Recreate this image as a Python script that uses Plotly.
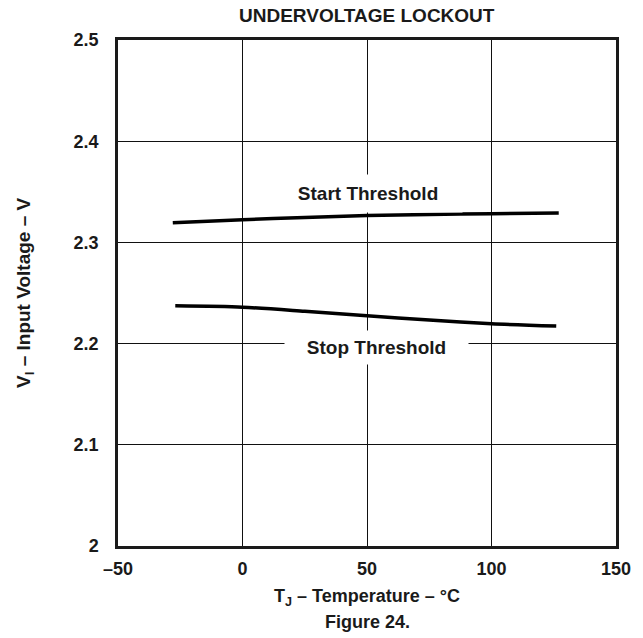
import plotly.graph_objects as go

# Junction temperature (°C) and UVLO thresholds (V)
start_temp = [-28, 0, 25, 50, 75, 100, 127]
start_volt = [2.3193, 2.3225, 2.3245, 2.3265, 2.3276, 2.3284, 2.329]

stop_temp = [-27, 0, 25, 50, 75, 100, 126]
stop_volt = [2.2373, 2.236, 2.232, 2.2275, 2.2232, 2.2196, 2.2173]

x_ticks = [-50, 0, 50, 100, 150]
x_tick_text = ["\u201350", "0", "50", "100", "150"]
y_ticks = [2.0, 2.1, 2.2, 2.3, 2.4, 2.5]
y_tick_text = ["2", "2.1", "2.2", "2.3", "2.4", "2.5"]

FONT = "Liberation Sans, Arial, sans-serif"
INK = "#1a1a1a"
PAD = "\u00a0\u00a0\u00a0"

fig = go.Figure()
for xs, ys in ((start_temp, start_volt), (stop_temp, stop_volt)):
    fig.add_trace(go.Scatter(x=xs, y=ys, mode="lines",
                             line=dict(color="black", width=3.5, shape="spline", smoothing=0.8),
                             showlegend=False, hoverinfo="skip"))

label_font = dict(family=FONT, size=19, color=INK)
fig.add_annotation(x=50.2, y=2.3484, text=f"<b>{PAD}Start Threshold{PAD}</b>", showarrow=False,
                   font=label_font, bgcolor="white", borderpad=8)
fig.add_annotation(x=53.7, y=2.1958, text=f"<b>{PAD}Stop Threshold{PAD}</b>", showarrow=False,
                   font=label_font, bgcolor="white", borderpad=6)

# Chart title, axis titles and figure caption
fig.add_annotation(x=0.5, y=1, xref="paper", yref="paper", yshift=25, yanchor="middle",
                   text="<b>UNDERVOLTAGE LOCKOUT</b>", showarrow=False,
                   font=dict(family=FONT, size=19, color=INK))
fig.add_annotation(x=0.5, y=0, xref="paper", yref="paper", yshift=-51, yanchor="middle",
                   text="<b>T<sub>J</sub> \u2013 Temperature \u2013 \u00b0C</b>", showarrow=False,
                   font=dict(family=FONT, size=18, color=INK))
fig.add_annotation(x=0.5, y=0, xref="paper", yref="paper", yshift=-76, yanchor="middle",
                   text="<b>Figure 24.</b>", showarrow=False,
                   font=dict(family=FONT, size=18, color=INK))
fig.add_annotation(x=0, y=0.5, xref="paper", yref="paper", xshift=-93, xanchor="center",
                   yanchor="middle", textangle=-90,
                   text="<b>V<sub>I</sub> \u2013 Input Voltage \u2013 V</b>", showarrow=False,
                   font=dict(family=FONT, size=19, color=INK))

axis_common = dict(showgrid=True, gridcolor="#111", gridwidth=1, showline=True, linecolor=INK,
                   linewidth=2.5, mirror=True, zeroline=False, ticks="",
                   tickfont=dict(family=FONT, size=18, color=INK))

fig.update_xaxes(range=[-50, 150], tickvals=x_ticks,
                 ticktext=[f"<b>{t}</b>" for t in x_tick_text],
                 ticklabelstandoff=5, **axis_common)
fig.update_yaxes(range=[2.0, 2.5], tickvals=y_ticks,
                 ticktext=[f"<b>{t}</b>" for t in y_tick_text],
                 ticklabelstandoff=13, **axis_common)

fig.update_layout(width=643, height=638, margin=dict(l=118, r=18, t=40, b=92),
                  plot_bgcolor="white", paper_bgcolor="white")

fig.write_html("out.html")
